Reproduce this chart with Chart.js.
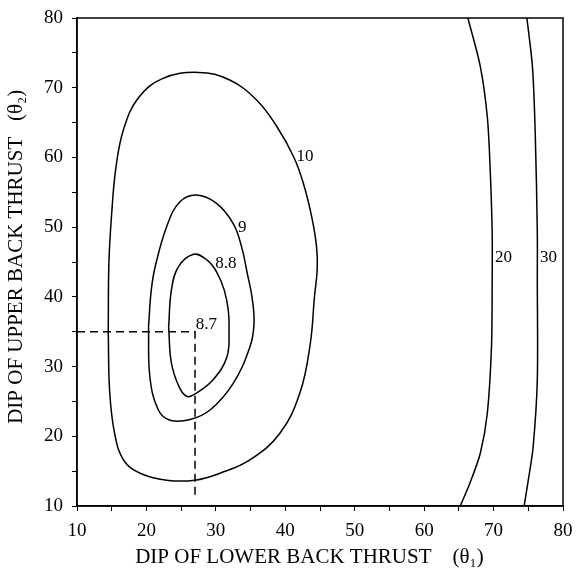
<!DOCTYPE html>
<html>
<head>
<meta charset="utf-8">
<script src="https://cdn.jsdelivr.net/npm/chart.js@4.4.0/dist/chart.umd.min.js"></script>
<style>
    html, body { margin: 0; padding: 0; background: #fff; }
    #wrap { width: 580px; height: 570px; }
</style>
</head>
<body>
<div id="wrap"><canvas id="contourChart"></canvas></div>
<script>
// Contour lines, as [theta1, theta2] pairs.
// Closed loops start on a straight stretch of the left side.
const contour10 = [[14.5,35.0],[14.6,45.0],[15.0,52.0],[15.6,58.5],[16.7,64.0],[18.8,68.5],[22.3,71.3],[27.5,72.2],[32.0,71.1],[35.9,68.2],[38.8,64.4],[41.2,60.1],[42.6,56.3],[43.8,51.5],[44.5,47.2],[44.6,44.0],[44.2,40.0],[43.6,33.3],[42.1,26.2],[39.2,20.4],[34.9,16.6],[30.6,14.7],[27.0,13.7],[22.9,13.7],[19.1,14.7],[16.7,16.6],[15.4,20.5],[14.7,26.5],[14.5,35.0]];
const contour9 = [[20.3,35.7],[20.7,41.0],[21.3,44.5],[23.0,50.3],[24.8,53.6],[27.2,54.6],[30.1,53.4],[32.5,50.5],[33.7,47.2],[34.6,43.0],[35.2,40.0],[35.5,36.2],[34.9,32.8],[32.5,27.6],[29.2,23.8],[26.3,22.4],[23.4,22.3],[21.7,23.8],[20.5,28.5],[20.3,35.7]];
const contour88 = [[23.2,35.7],[23.6,41.0],[24.6,44.3],[26.8,46.1],[28.7,45.3],[30.1,43.6],[31.2,41.0],[31.8,38.0],[31.9,35.2],[31.6,31.4],[29.6,28.1],[27.2,26.2],[25.9,25.7],[24.8,26.9],[23.6,30.5],[23.2,35.7]];
const contour20 = [[66.3,80],[68.1,73],[69.1,65.8],[69.5,58.6],[69.8,49.2],[69.8,42.4],[69.7,32.8],[69.1,23.3],[68.1,17.6],[66.6,13.3],[65.2,10]];
const contour30 = [[74.8,80],[75.6,73],[76.0,63.5],[76.3,49.2],[76.3,42.4],[76.3,28.1],[75.7,18.5],[75.0,13.7],[74.4,10]];
const bestFitLines = [[10,35],[27,35],[27,11]];

// Contour labels: text, theta1 of left edge, theta2 of middle
const labelTexts = ['10', '9', '8.8', '8.7', '20', '30'];
const labelX = [41.6, 33.2, 29.9, 27.1, 70.2, 76.7];
const labelY = [60.1, 49.9, 44.8, 36.0, 45.7, 45.7];

// extra spaces nudge the centred titles like in the original
const xTitle = 'DIP OF LOWER BACK THRUST    (\u03b8\u2081)    ';
const yTitle = '  DIP OF UPPER BACK THRUST   (\u03b8\u2082)';

const serif = "'Liberation Serif', 'Times New Roman', serif";

function toPoints(arr) {
    return arr.map(function(p) { return { x: p[0], y: p[1] }; });
}

function lineSet(arr, tension, dash) {
    return {
        data: toPoints(arr),
        showLine: true,
        borderColor: '#000',
        borderWidth: 1.5,
        pointRadius: 0,
        tension: tension,
        borderDash: dash || [],
        fill: false
    };
}

// Frame round the plot area and labels on the contours
const framePlugin = {
    id: 'frame',
    afterDatasetsDraw: function(chart) {
        const ctx = chart.ctx;
        const a = chart.chartArea;
        const xs = chart.scales.x;
        const ys = chart.scales.y;
        ctx.save();
        ctx.strokeStyle = '#000';
        ctx.lineWidth = 1.5;
        ctx.strokeRect(a.left, a.top, a.right - a.left, a.bottom - a.top);
        ctx.fillStyle = '#000';
        ctx.font = '17px ' + serif;
        ctx.textAlign = 'left';
        ctx.textBaseline = 'middle';
        labelTexts.forEach(function(t, i) {
            ctx.fillText(t, xs.getPixelForValue(labelX[i]), ys.getPixelForValue(labelY[i]));
        });
        ctx.restore();
    }
};

const tickCallback = function(value) {
    return value % 10 === 0 ? value : '';
};

new Chart(document.getElementById('contourChart'), {
    type: 'scatter',
    data: {
        datasets: [
            lineSet(contour10, 0.4),
            lineSet(contour9, 0.4),
            lineSet(contour88, 0.4),
            lineSet(contour20, 0.3),
            lineSet(contour30, 0.3),
            lineSet(bestFitLines, 0, [8, 5])
        ]
    },
    options: {
        responsive: true,
        maintainAspectRatio: false,
        animation: false,
        layout: {
            padding: { top: 18, right: 17, left: 0, bottom: 0 }
        },
        plugins: {
            legend: { display: false },
            tooltip: { enabled: false }
        },
        scales: {
            x: {
                type: 'linear',
                min: 10,
                max: 80,
                afterFit: function(scale) {
                    scale.height = 64;
                    scale.paddingLeft = 0;
                    scale.paddingRight = 0;
                },
                border: { color: '#000', width: 1.5 },
                grid: { drawOnChartArea: false, drawTicks: true, tickLength: 5, color: '#000' },
                ticks: {
                    stepSize: 5,
                    autoSkip: false,
                    maxRotation: 0,
                    padding: 9,
                    color: '#000',
                    font: { family: serif, size: 19 },
                    callback: tickCallback
                },
                title: {
                    display: true,
                    text: xTitle,
                    color: '#000',
                    font: { family: serif, size: 21 },
                    padding: { top: 0, bottom: 0 }
                }
            },
            y: {
                type: 'linear',
                min: 10,
                max: 80,
                afterFit: function(scale) {
                    scale.width = 77;
                    scale.paddingTop = 0;
                    scale.paddingBottom = 0;
                },
                border: { color: '#000', width: 1.5 },
                grid: { drawOnChartArea: false, drawTicks: true, tickLength: 5, color: '#000' },
                ticks: {
                    stepSize: 5,
                    autoSkip: false,
                    padding: 9,
                    color: '#000',
                    font: { family: serif, size: 19 },
                    callback: tickCallback
                },
                title: {
                    display: true,
                    text: yTitle,
                    color: '#000',
                    font: { family: serif, size: 21 },
                    padding: { top: 4, bottom: 4 }
                }
            }
        }
    },
    plugins: [framePlugin]
});
</script>
</body>
</html>
